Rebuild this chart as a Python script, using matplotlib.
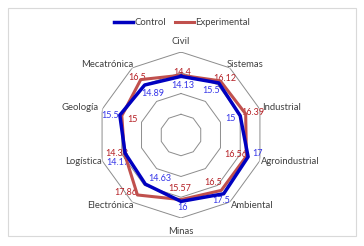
import numpy as np
import matplotlib
matplotlib.use("Agg")
import matplotlib.pyplot as plt
from matplotlib.lines import Line2D
from matplotlib.patches import Rectangle

plt.rcParams['font.family'] = ['Lato', 'DejaVu Sans']

categories = ["Civil", "Sistemas", "Industrial", "Agroindustrial", "Ambiental",
              "Minas", "Electrónica", "Logística", "Geología", "Mecatrónica"]
control = [14.13, 15.5, 15, 17, 17.5, 16, 14.63, 14.17, 15.5, 14.89]
experimental = [14.4, 16.12, 16.39, 16.56, 16.5, 15.57, 17.86, 14.33, 15, 16.5]
control_labels = ["14.13", "15.5", "15", "17", "17.5", "16", "14.63", "14.17", "15.5", "14.89"]
exp_labels = ["14.4", "16.12", "16.39", "16.56", "16.5", "15.57", "17.86", "14.33", "15", "16.5"]
grid_levels = [5, 10, 15, 20]

W, H, DPI = 364, 246, 100
fig = plt.figure(figsize=(W / DPI, H / DPI), dpi=DPI)
fig.patches.append(Rectangle((7.5 / W, 1 - 235.5 / H), 348 / W, 228 / H,
                             transform=fig.transFigure, fill=False,
                             edgecolor="#d9d9d9", linewidth=0.8))

cx, cy, R = 181, 135, 83
ax = fig.add_axes([(cx - R) / W, (H - cy - R) / H, 2 * R / W, 2 * R / H], projection="polar")
ax.set_theta_zero_location("N")
ax.set_theta_direction(-1)
ax.set_ylim(0, 20)
ax.grid(False)
ax.set_xticks([])
ax.set_yticks([])
ax.spines["polar"].set_visible(False)
ax.patch.set_alpha(0)

n = len(categories)
theta = np.arange(n) * 2 * np.pi / n
theta_c = np.append(theta, theta[0])

for g in grid_levels:
    ax.plot(theta_c, [g] * (n + 1), color="#8c8c8c", lw=0.7, zorder=1)

ax.plot(theta_c, experimental + [experimental[0]], color="#C0504D", lw=2.2, zorder=4)
ax.plot(theta_c, control + [control[0]], color="#0000C0", lw=2.5, zorder=4)

# data labels (offsets in pixels: dx right, dy down)
c_off = [(2, 9), (-8, 8), (-10, 3), (9, -3), (-3, 7), (2, 6), (15, -6), (-7, 9), (-10, 0), (8, 8)]
e_off = [(1, -3), (5, -2), (7, -1), (-11, -2), (-8, -8), (-1, -11), (-12, -2), (-8, 0), (11, 4), (-4, -2)]
for i in range(n):
    ax.annotate(control_labels[i], (theta[i], control[i]), xytext=(c_off[i][0] * 0.72, -c_off[i][1] * 0.72),
                textcoords="offset points", ha="center", va="center", fontsize=6.5,
                color="#3535E8", zorder=3)
    ax.annotate(exp_labels[i], (theta[i], experimental[i]), xytext=(e_off[i][0] * 0.72, -e_off[i][1] * 0.72),
                textcoords="offset points", ha="center", va="center", fontsize=6.5,
                color="#B52025", zorder=3)

# category labels (pixel positions of the label centres)
cat_pos = [(181, 42), (245, 65), (282, 108), (290, 162), (252, 205),
           (181, 232), (110, 205), (83, 162), (80, 108), (107, 65)]
for i in range(n):
    px, py = cat_pos[i]
    fig.text(px / W, 1 - py / H, categories[i], ha="center", va="center", fontsize=6.8, color="#404040")

handles = [Line2D([], [], color="#0000C0", lw=2.5), Line2D([], [], color="#C0504D", lw=2.2)]
fig.legend(handles, ["Control", "Experimental"], loc="center", bbox_to_anchor=(182 / W, 1 - 22.5 / H),
           ncol=2, frameon=False, fontsize=6.8, handlelength=2.0, handletextpad=0.1,
           columnspacing=1.0, labelcolor="#404040")

fig.savefig("out.png", dpi=DPI)
